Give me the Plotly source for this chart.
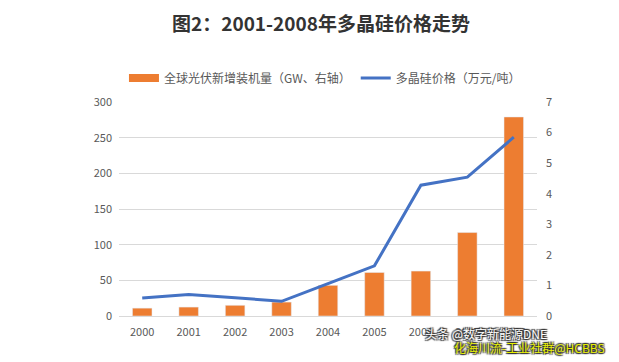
import plotly.graph_objects as go

years = ["2000", "2001", "2002", "2003", "2004", "2005", "2006", "2007", "2008"]
bar_values = [11, 12.5, 15, 19.5, 43, 61, 63, 117, 279]
line_values = [0.59, 0.70, 0.60, 0.48, 1.06, 1.64, 4.28, 4.54, 5.85]
bar_name = "全球光伏新增装机量（GW、右轴）"
line_name = "多晶硅价格（万元/吨）"
title_text = "图2：2001-2008年多晶硅价格走势"
left_ticks = [0, 50, 100, 150, 200, 250, 300]
right_ticks = [0, 1, 2, 3, 4, 5, 6, 7]

FONT = "Noto Sans CJK SC"
GRAY = "#595959"
ORANGE = "#ED7D31"
BLUE = "#4472C4"

fig = go.Figure()
fig.add_trace(go.Bar(x=years, y=bar_values, name=bar_name, marker_color=ORANGE,
                     yaxis="y", showlegend=False))
# legend stand-in for the bar series (wide flat swatch, as in the reference)
fig.add_trace(go.Scatter(x=[None], y=[None], name=bar_name, mode="lines",
                         line=dict(color=ORANGE, width=8), yaxis="y"))
fig.add_trace(go.Scatter(x=years, y=line_values, name=line_name, mode="lines",
                         line=dict(color=BLUE, width=3), yaxis="y2"))

pl, pr, pt, pb = 119, 537, 102, 316
fig.update_layout(
    width=619, height=362,
    margin=dict(l=pl, r=619 - pr, t=pt, b=362 - pb, autoexpand=False),
    paper_bgcolor="white", plot_bgcolor="white",
    font=dict(family=FONT, color=GRAY, size=11),
    title=dict(text="<b>" + title_text + "</b>", x=321 / 619, xanchor="center",
               y=1 - 24 / 362, yanchor="middle",
               font=dict(family=FONT, size=19, color="#333333")),
    bargap=0.58,
    showlegend=True,
    legend=dict(orientation="h", x=305 / 619, xref="paper", xanchor="center",
                y=(pb - 78) / (pb - pt), yanchor="middle",
                font=dict(size=12, color=GRAY), itemwidth=30,
                bgcolor="rgba(0,0,0,0)"),
    xaxis=dict(showgrid=False, showline=True, linecolor="#d9d9d9", linewidth=1,
               ticks="", ticklabelstandoff=6, tickfont=dict(size=11, color=GRAY)),
    yaxis=dict(range=[0, 300], tickvals=left_ticks, showgrid=True, gridcolor="#d9d9d9",
               zeroline=False, showline=False, ticks="", ticklabelstandoff=6,
               tickfont=dict(size=11, color=GRAY)),
    yaxis2=dict(range=[0, 7], tickvals=right_ticks, overlaying="y", side="right",
                showgrid=False, zeroline=False, showline=False, ticks="",
                ticklabelstandoff=8, tickfont=dict(size=11, color=GRAY)),
)

shadow = "1px 1px 1px #333, -1px -1px 1px #333, 1px -1px 1px #333, -1px 1px 1px #333"
watermarks = [("头条 @数字新能源DNE", 423, 333, "white"),
              ("化海川流-工业社群@HCBBS", 452, 347, "#e8f000")]
for text, px, py, col in watermarks:
    fig.add_annotation(text=text, x=(px - pl) / (pr - pl), y=(pb - py) / (pb - pt),
                       xref="paper", yref="paper", showarrow=False,
                       xanchor="left", yanchor="middle",
                       font=dict(family=FONT, size=12, color=col, shadow=shadow))

fig.write_html("out.html", config={"displayModeBar": False},
               post_script="document.body.style.margin='0';document.body.style.overflow='hidden';")
